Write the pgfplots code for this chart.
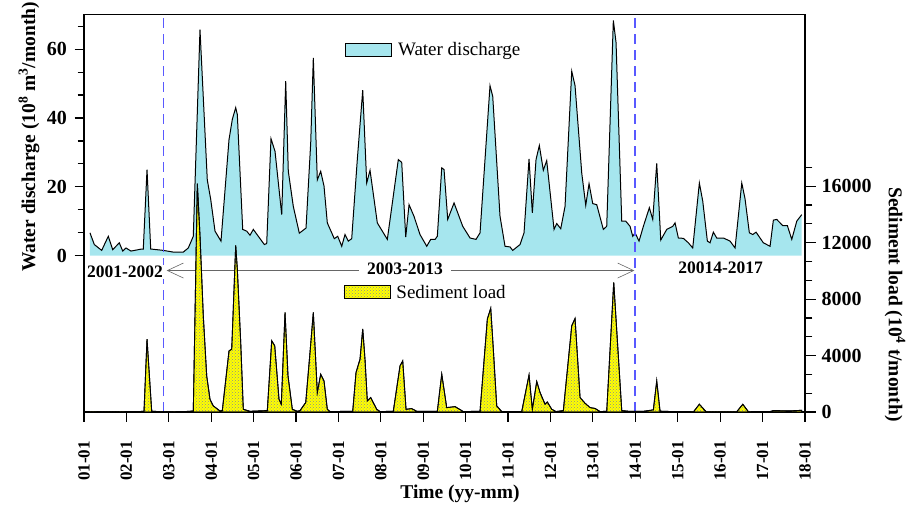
\documentclass[border=0pt]{standalone}
\usepackage{fontspec}
\setmainfont{Liberation Serif}
\usepackage{pgfplots}
\usepackage{pgfplotstable}
\pgfplotsset{compat=1.18}
\usetikzlibrary{patterns,arrows.meta}
\definecolor{wcyan}{RGB}{166,230,238}
\definecolor{syel}{RGB}{255,255,0}

\pgfplotstableread{
x y
2001.141 6.6
2001.243 3.2
2001.417 1.5
2001.573 5.6
2001.677 1.7
2001.832 3.7
2001.913 1.3
2001.990 2.2
2002.108 1.3
2002.361 1.9
2002.398 1.9
2002.486 25.0
2002.573 1.9
2002.870 1.5
2003.106 1.0
2003.341 1.0
2003.459 2.2
2003.577 5.6
2003.735 65.7
2003.907 22.0
2003.988 16.3
2004.089 7.1
2004.230 4.2
2004.419 33.7
2004.497 39.6
2004.577 43.0
2004.615 41.0
2004.742 7.6
2004.836 7.1
2004.914 5.9
2004.992 7.6
2005.110 5.6
2005.252 3.2
2005.308 3.5
2005.409 34.0
2005.504 30.3
2005.662 11.9
2005.756 50.7
2005.817 24.5
2005.935 14.3
2006.077 6.5
2006.235 8.0
2006.346 32.9
2006.407 57.5
2006.501 22.0
2006.581 24.5
2006.659 20.2
2006.737 9.5
2006.902 4.9
2006.982 5.6
2007.077 2.7
2007.154 6.1
2007.232 4.2
2007.312 4.9
2007.444 27.9
2007.572 48.1
2007.666 21.1
2007.744 24.8
2007.916 9.5
2008.152 4.7
2008.411 27.9
2008.491 27.1
2008.586 5.4
2008.664 14.8
2008.781 11.4
2008.923 6.1
2009.081 2.7
2009.175 4.7
2009.277 4.7
2009.331 5.6
2009.435 25.5
2009.489 25.0
2009.576 10.5
2009.725 15.3
2009.930 8.5
2010.102 5.1
2010.243 4.7
2010.338 6.6
2010.573 49.4
2010.637 46.3
2010.809 11.4
2010.927 2.7
2011.045 2.5
2011.109 1.5
2011.281 3.2
2011.375 6.6
2011.493 28.1
2011.571 12.4
2011.658 27.9
2011.736 32.0
2011.830 24.8
2011.910 27.6
2012.083 7.6
2012.146 9.3
2012.241 7.8
2012.342 14.3
2012.500 53.6
2012.578 49.4
2012.736 24.0
2012.830 14.6
2012.908 20.9
2012.995 15.1
2013.089 14.8
2013.245 7.6
2013.325 8.5
2013.481 68.4
2013.545 61.9
2013.679 10.0
2013.773 10.0
2013.875 8.5
2013.938 5.6
2013.993 6.6
2014.087 4.2
2014.189 8.5
2014.330 13.9
2014.410 10.5
2014.504 26.8
2014.599 4.5
2014.740 7.6
2014.882 8.5
2014.936 9.5
2015.014 5.1
2015.132 5.0
2015.250 3.7
2015.353 2.2
2015.509 21.1
2015.589 15.8
2015.698 4.2
2015.761 3.7
2015.839 6.8
2015.919 5.1
2016.075 5.1
2016.233 4.2
2016.351 2.2
2016.509 21.1
2016.586 16.5
2016.688 6.6
2016.768 6.1
2016.846 6.8
2017.018 3.7
2017.176 2.7
2017.254 10.3
2017.334 10.5
2017.475 8.7
2017.584 8.7
2017.688 4.7
2017.806 10.0
2017.923 11.9
}\water

\pgfplotstableread{
x y
2001.141 0
2002.320 30
2002.415 60
2002.486 5165
2002.596 60
2002.792 20
2002.910 10
2003.382 30
2003.577 70
2003.672 16180
2003.735 12500
2003.813 6800
2003.893 2560
2003.971 900
2004.049 430
2004.207 70
2004.261 100
2004.419 4330
2004.483 4450
2004.577 11800
2004.615 10140
2004.695 4930
2004.756 190
2004.914 50
2005.322 100
2005.426 5050
2005.497 4690
2005.598 900
2005.652 550
2005.740 7060
2005.810 2560
2005.912 190
2006.030 50
2006.093 100
2006.228 670
2006.329 4220
2006.407 7060
2006.501 1380
2006.581 2680
2006.659 2200
2006.737 190
2006.801 30
2007.336 50
2007.414 2800
2007.508 3740
2007.572 5880
2007.626 3700
2007.680 780
2007.760 1020
2007.902 190
2007.980 30
2008.293 50
2008.451 3270
2008.515 3620
2008.593 190
2008.727 240
2008.845 50
2009.331 50
2009.435 2680
2009.552 310
2009.749 380
2009.944 30
2010.338 50
2010.510 6590
2010.590 7350
2010.651 4450
2010.731 430
2010.849 30
2011.321 30
2011.493 2630
2011.571 190
2011.675 2160
2011.753 1380
2011.871 550
2011.925 710
2012.028 190
2012.130 30
2012.302 100
2012.500 6110
2012.578 6630
2012.696 1020
2012.814 620
2012.932 310
2013.050 250
2013.168 30
2013.325 50
2013.490 9190
2013.679 100
2013.875 40
2014.189 50
2014.424 150
2014.504 2200
2014.582 60
2014.863 30
2015.373 20
2015.509 550
2015.667 20
2016.391 20
2016.533 550
2016.664 20
2017.176 30
2017.254 100
2017.648 80
2017.923 120
}\sed

\begin{document}
\begin{tikzpicture}
\pgfplotsset{
  base/.style={
    scale only axis, width=721pt, height=397.5pt,
    at={(0pt,0pt)}, anchor=south west,
    xmin=2001, xmax=2018,
    axis line style={line width=1.3pt},
    tick align=outside,
    every tick/.style={black, line width=1.2pt},
    /pgf/number format/assume math mode=true,
    /pgf/number format/1000 sep={},
    scaled y ticks=false,
    yticklabel style={font=\fontsize{20}{20}\selectfont\bfseries},
    legend image code/.code={\draw[##1, draw=black, line width=0.9pt] (0pt,-6.5pt) rectangle (46pt,6.5pt);},
    legend cell align=left,
  }
}
\begin{axis}[base,
  ymin=-45.5, ymax=70.1,
  ytick={0,20,40,60},
  minor ytick={6.667,13.333,26.667,33.333,46.667,53.333,66.667},
  ytick pos=left, xtick pos=bottom,
  major tick length=9.5pt, minor tick length=6.5pt,
  xtick={2001,2002,...,2018},
  minor x tick num=3,
  xticklabels={01-01,02-01,03-01,04-01,05-01,06-01,07-01,08-01,09-01,10-01,11-01,12-01,13-01,14-01,15-01,16-01,17-01,18-01},
  xticklabel style={yshift=-16pt, rotate=90, anchor=east, font=\fontsize{17}{17}\selectfont\bfseries},
  yticklabel style={xshift=-4pt},
  xlabel={Time (yy-mm)},
  xlabel style={at={(rel axis cs:0.5215,-0.205)}, anchor=center, font=\fontsize{19.5}{20}\selectfont\bfseries},
  ylabel={Water discharge (10\textsuperscript{8} m\textsuperscript{3}/month)},
  ylabel style={at={(rel axis cs:-0.0763,0.692)}, anchor=center, font=\fontsize{19.5}{20}\selectfont\bfseries},
  legend style={at={(rel axis cs:0.362,0.912)}, anchor=west, draw=none, fill=none, inner sep=0pt,
    font=\fontsize{19}{19}\selectfont, column sep=4pt},
]
\addplot[fill=wcyan, draw=none] table {\water} \closedcycle;
\addlegendentry{Water discharge}
\addplot[black, line width=1pt, forget plot] table {\water};
\addplot[draw=blue!65!white, dash pattern=on 10pt off 6pt, line width=1.4pt, forget plot] coordinates {(2002.875,-45.5) (2002.875,70.1)};
\addplot[draw=blue!65!white, dash pattern=on 10pt off 6pt, line width=1.4pt, forget plot] coordinates {(2013.993,-45.5) (2013.993,70.1)};
\draw[black!60, line width=0.6pt, {Straight Barb[length=16pt,width=15pt,line width=0.6pt]}-{Straight Barb[length=16pt,width=15pt,line width=0.6pt]}] (axis cs:2002.95,-4.36) -- (axis cs:2013.976,-4.36);
\node[font=\fontsize{17.5}{17.5}\selectfont\bfseries, fill=white, inner sep=1pt] at (axis cs:2001.967,-4.86) {2001-2002};
\node[font=\fontsize{17.5}{17.5}\selectfont\bfseries, fill=white, inner xsep=8pt, inner ysep=1pt] at (axis cs:2008.569,-3.8) {2003-2013};
\node[font=\fontsize{17.5}{17.5}\selectfont\bfseries] at (axis cs:2016.009,-3.58) {20014-2017};
\end{axis}
\begin{axis}[base,
  ymin=0, ymax=28170,
  xtick=\empty,
  ytick pos=right,
  ytick={0,4000,8000,12000,16000},
  minor ytick={1333.3,2666.7,5333.3,6666.7,9333.3,10666.7,13333.3,14666.7,17333.3},
  major tick length=11pt, minor tick length=7.5pt,
  yticklabel style={xshift=2pt},
  ylabel={Sediment load (10\textsuperscript{4} t/month)},
  ylabel style={at={(rel axis cs:1.1248,0.2704)}, anchor=center, rotate=180, font=\fontsize{19.5}{20}\selectfont\bfseries},
  legend style={at={(rel axis cs:0.3597,0.3014)}, anchor=west, draw=none, fill=none, inner sep=0pt,
    font=\fontsize{19}{19}\selectfont, column sep=4pt},
]
\addplot[fill=syel, draw=black, line width=0.9pt, postaction={pattern=crosshatch dots, pattern color=black!45}] table {\sed} \closedcycle;
\addlegendentry{Sediment load}
\end{axis}
\pgfresetboundingbox
\path[use as bounding box] (-84pt,-96pt) rectangle (828pt,412pt);
\end{tikzpicture}
\end{document}
